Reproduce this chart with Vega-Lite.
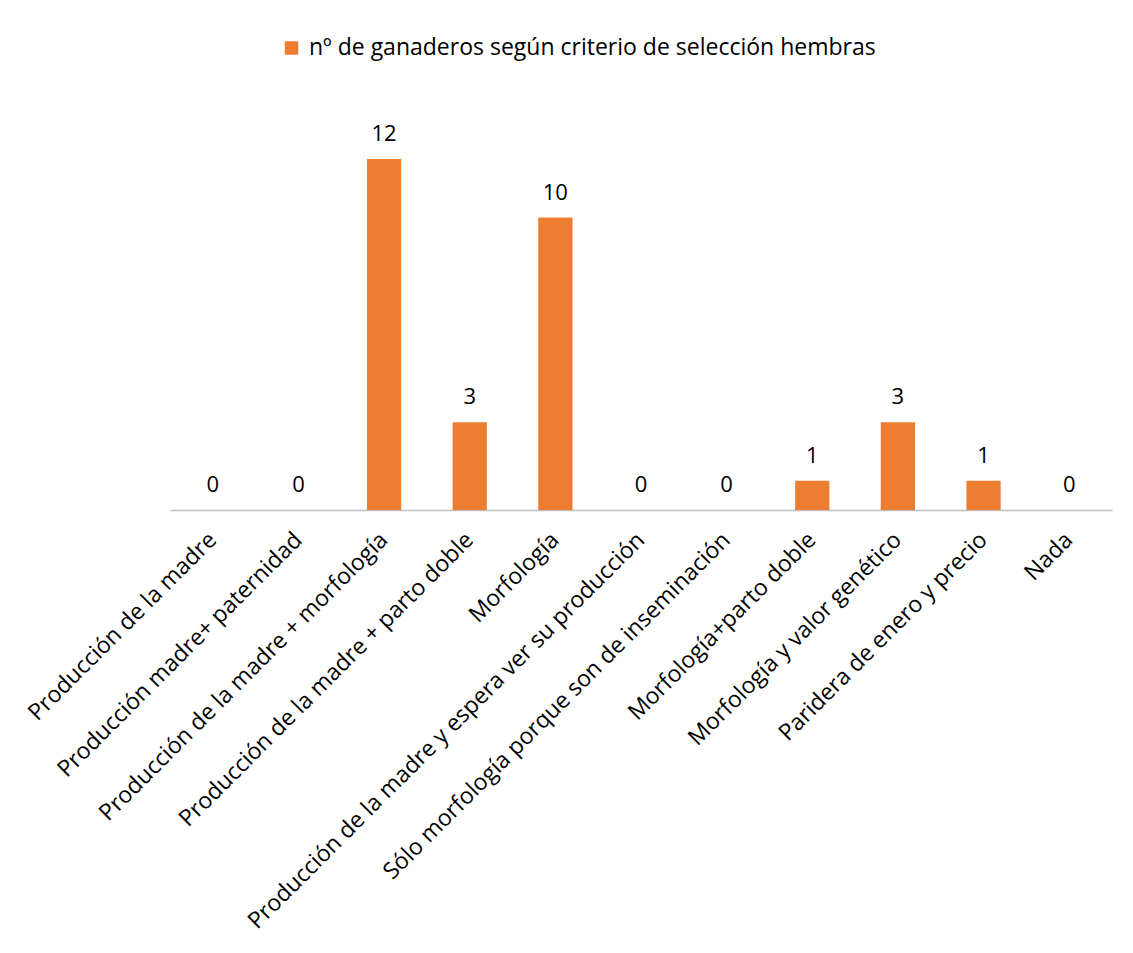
{
  "$schema": "https://vega.github.io/schema/vega-lite/v6.json",
  "autosize": {"type": "none"},
  "width": 942,
  "height": 409.5,
  "padding": {"left": 170, "top": 100.5, "right": 21, "bottom": 443},
  "background": "white",
  "config": {"view": {"stroke": null}, "font": "Open Sans"},
  "data": {
    "values": [
      {"criterio": "Producción de la madre", "n": 0, "serie": "nº de ganaderos según criterio de selección hembras"},
      {"criterio": "Producción madre+ paternidad", "n": 0, "serie": "nº de ganaderos según criterio de selección hembras"},
      {"criterio": "Producción de la madre + morfología", "n": 12, "serie": "nº de ganaderos según criterio de selección hembras"},
      {"criterio": "Producción de la madre + parto doble", "n": 3, "serie": "nº de ganaderos según criterio de selección hembras"},
      {"criterio": "Morfología", "n": 10, "serie": "nº de ganaderos según criterio de selección hembras"},
      {"criterio": "Producción de la madre y espera ver su producción", "n": 0, "serie": "nº de ganaderos según criterio de selección hembras"},
      {"criterio": "Sólo morfología porque son de inseminación", "n": 0, "serie": "nº de ganaderos según criterio de selección hembras"},
      {"criterio": "Morfología+parto doble", "n": 1, "serie": "nº de ganaderos según criterio de selección hembras"},
      {"criterio": "Morfología y valor genético", "n": 3, "serie": "nº de ganaderos según criterio de selección hembras"},
      {"criterio": "Paridera de enero y precio", "n": 1, "serie": "nº de ganaderos según criterio de selección hembras"},
      {"criterio": "Nada", "n": 0, "serie": "nº de ganaderos según criterio de selección hembras"}
    ]
  },
  "encoding": {
    "x": {
      "field": "criterio",
      "type": "nominal",
      "sort": null,
      "scale": {"paddingInner": 0.6, "paddingOuter": 0.3},
      "axis": {
        "title": null,
        "labelAngle": -45,
        "labelAlign": "right",
        "labelBaseline": "middle",
        "labelFontSize": 23,
        "labelColor": "#000000",
        "labelPadding": 26,
        "labelLimit": 1000,
        "ticks": false,
        "domainColor": "#BFBFBF",
        "domainWidth": 1.5
      }
    },
    "y": {
      "field": "n",
      "type": "quantitative",
      "scale": {"domain": [0, 14]},
      "axis": null
    }
  },
  "layer": [
    {
      "mark": {"type": "bar"},
      "encoding": {
        "color": {
          "field": "serie",
          "type": "nominal",
          "scale": {"range": ["#ED7D31"]},
          "legend": {
            "title": null,
            "orient": "none",
            "legendX": 110,
            "legendY": -64,
            "symbolType": "square",
            "symbolSize": 180,
            "symbolOpacity": 1,
            "labelFontSize": 23,
            "labelOffset": 6,
            "labelColor": "#000000",
            "labelLimit": 1000
          }
        }
      }
    },
    {
      "mark": {"type": "text", "baseline": "alphabetic", "dy": -18, "fontSize": 22, "color": "#000000"},
      "encoding": {"text": {"field": "n", "type": "quantitative"}}
    }
  ]
}
